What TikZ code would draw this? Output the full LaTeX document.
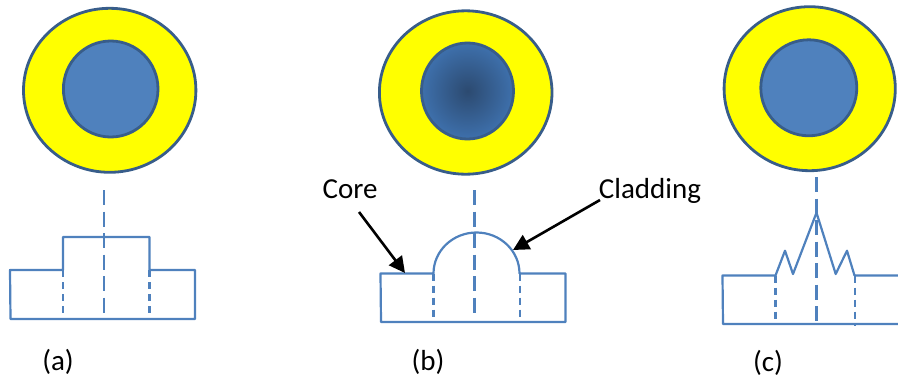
\documentclass[tikz,border=0pt]{standalone}
\usepackage{fontspec}
\setmainfont{Carlito}
\usetikzlibrary{arrows.meta}
\definecolor{lineblue}{RGB}{79,129,189}
\definecolor{ringblue}{RGB}{56,93,138}
\definecolor{coreblue}{RGB}{79,129,189}
\definecolor{ringyellow}{RGB}{255,255,0}
\definecolor{coredark}{RGB}{44,74,112}
\definecolor{coreedge}{RGB}{62,112,172}
\tikzset{
  ring/.style={draw=ringblue,line width=2.8pt,fill=ringyellow},
  corefill/.style={draw=ringblue,line width=2.8pt,fill=coreblue},
  profile/.style={draw=lineblue,line width=2.2pt,line join=round},
  axisline/.style={draw=lineblue,line width=2.2pt,dash pattern=on 15pt off 6.5pt},
  sideline/.style={draw=lineblue,line width=2.2pt,dash pattern=on 7pt off 5pt},
  pointer/.style={draw=black,line width=2.6pt,-{Triangle[length=16pt,width=16pt]}},
  lab/.style={inner sep=0pt,font=\fontsize{29}{32}\selectfont,text=black}
}
\begin{document}
\begin{tikzpicture}[x=1pt,y=-1pt]
\useasboundingbox (0,0) rectangle (898,381);
% (a)
\draw[ring] (109.7,90.3) ellipse [x radius=86.2,y radius=82];
\draw[corefill] (110.7,89) ellipse [x radius=47.3,y radius=48];
\coordinate (a1) at (104,190);
\coordinate (a2) at (104,316);
\draw[axisline] (a1) -- (a2);
\draw[profile] (10,270) -- (63,270) -- (63,237) -- (149.5,237) -- (149.5,270) -- (195,270) -- (195,319) -- (10.5,319) -- cycle;
\draw[sideline] (63,270) -- (63,319);
\draw[sideline] (149.5,270) -- (149.5,319);
\node[lab] (la) at (58,362) {(a)};
% (b)
\draw[ring] (465.7,92.5) ellipse [x radius=86.3,y radius=81.7];
\shade[inner color=coredark,outer color=coreedge,draw=ringblue,line width=2.8pt] (467.5,91) ellipse [x radius=46,y radius=48];
\coordinate (b1) at (474.5,190);
\coordinate (b2) at (474.5,316);
\draw[axisline] (b1) -- (b2);
\draw[profile] (380.5,273.5) -- (433.5,273.5) arc[start angle=180,end angle=360,x radius=43,y radius=41] -- (565.5,273.5) -- (565.5,322) -- (381,322) -- cycle;
\draw[sideline] (433.5,273.5) -- (433.5,322);
\draw[sideline] (520,273.5) -- (520,322);
\node[lab] (lb) at (428,362) {(b)};
\node[lab] (core) at (350,189.5) {Core};
\node[lab] (clad) at (650,191) {Cladding};
\coordinate (ct) at (405,273);
\coordinate (cl) at (513,250);
\coordinate (cs) at (359,212);
\coordinate (ds) at (600,200);
\draw[pointer] (cs) -- (ct);
\draw[pointer] (ds) -- (cl);
% (c)
\draw[ring] (809.7,88.7) ellipse [x radius=85.6,y radius=82];
\draw[corefill] (808.8,87.8) ellipse [x radius=48,y radius=48];
\coordinate (c1) at (816.5,177);
\coordinate (c2) at (816.5,324);
\draw[axisline] (c1) -- (c2);
\draw[profile] (898,275.5) -- (854.5,275.5) -- (847,250.7) -- (835.7,274) -- (816.5,212.7) -- (793,274) -- (785,250.7) -- (775.5,275.5) -- (722.5,275.5) -- (723,324) -- (898,324);
\draw[sideline] (775.5,275.5) -- (775.5,324);
\draw[sideline] (855,275.5) -- (855,326);
\node[lab] (lc) at (768,363) {(c)};
\end{tikzpicture}
\end{document}
